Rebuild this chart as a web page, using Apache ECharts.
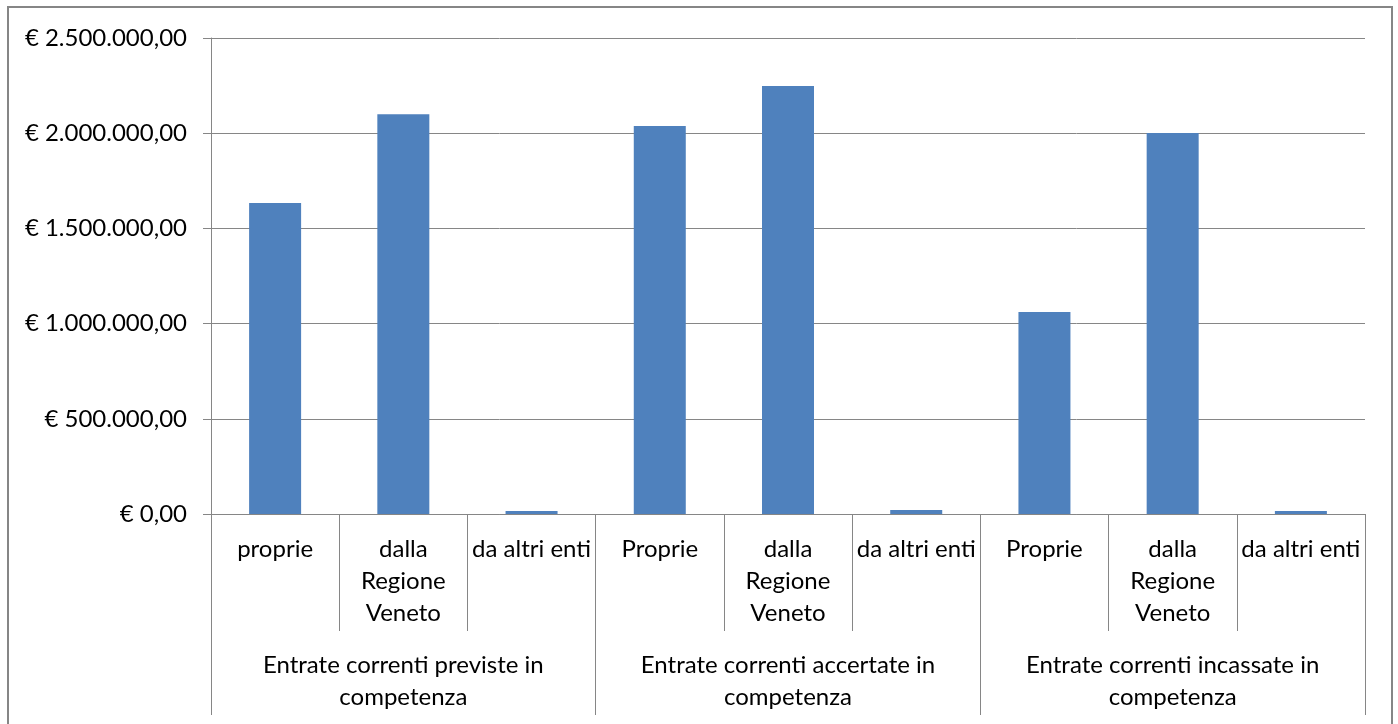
<!DOCTYPE html>
<html>
<head>
<meta charset="utf-8">
<script src="https://cdn.jsdelivr.net/npm/echarts@6/dist/echarts.min.js"></script>
<style>html,body{margin:0;padding:0;background:#fff}#c{width:1398px;height:724px}</style>
</head>
<body>
<div id="c"></div>
<script>
var subCategories = ['proprie', 'dalla\nRegione\nVeneto', 'da altri enti',
                     'Proprie', 'dalla\nRegione\nVeneto', 'da altri enti',
                     'Proprie', 'dalla\nRegione\nVeneto', 'da altri enti'];
var groupCategories = ['Entrate correnti previste in\ncompetenza',
                       'Entrate correnti accertate in\ncompetenza',
                       'Entrate correnti incassate in\ncompetenza'];
var values = [1633000, 2100000, 16000, 2038000, 2248000, 21000, 1061000, 2001000, 16000];

function fmtEuro(v) {
  var s = Math.round(v).toString().replace(/\B(?=(\d{3})+(?!\d))/g, '.');
  return '€ ' + s + ',00';
}

var chart = echarts.init(document.getElementById('c'));
var grey = '#868686';
var font = 'Lato, "Open Sans", sans-serif';
chart.setOption({
  animation: false,
  backgroundColor: '#fff',
  grid: { left: 211, right: 33, top: 38, bottom: 210 },
  graphic: [{
    type: 'rect', shape: { x: 8, y: 7, width: 1384, height: 740 },
    style: { fill: 'none', stroke: grey, lineWidth: 2 }, silent: true
  }],
  xAxis: [{
    type: 'category', data: subCategories, position: 'bottom',
    axisLine: { show: true, lineStyle: { color: grey, width: 1 } },
    axisTick: { show: true, interval: 0, length: 117, lineStyle: { color: grey } },
    axisLabel: { interval: 0, margin: 19, color: '#000', fontSize: 24, lineHeight: 32, fontFamily: font }
  }, {
    type: 'category', data: groupCategories, position: 'bottom',
    axisLine: { show: false },
    axisTick: { show: true, interval: 0, length: 201, lineStyle: { color: grey } },
    axisLabel: { interval: 0, margin: 135, color: '#000', fontSize: 24, lineHeight: 32, fontFamily: font }
  }],
  yAxis: {
    type: 'value', min: 0, max: 2500000, interval: 500000,
    axisLine: { show: true, lineStyle: { color: grey } },
    axisTick: { show: true, length: 8, lineStyle: { color: grey } },
    splitLine: { show: true, lineStyle: { color: grey, width: 1 } },
    axisLabel: { formatter: fmtEuro, margin: 24, color: '#000', fontSize: 24, fontFamily: font }
  },
  series: [{
    type: 'bar', data: values, xAxisIndex: 0, barWidth: 52,
    itemStyle: { color: '#4F81BD' }
  }]
});
</script>
</body>
</html>
